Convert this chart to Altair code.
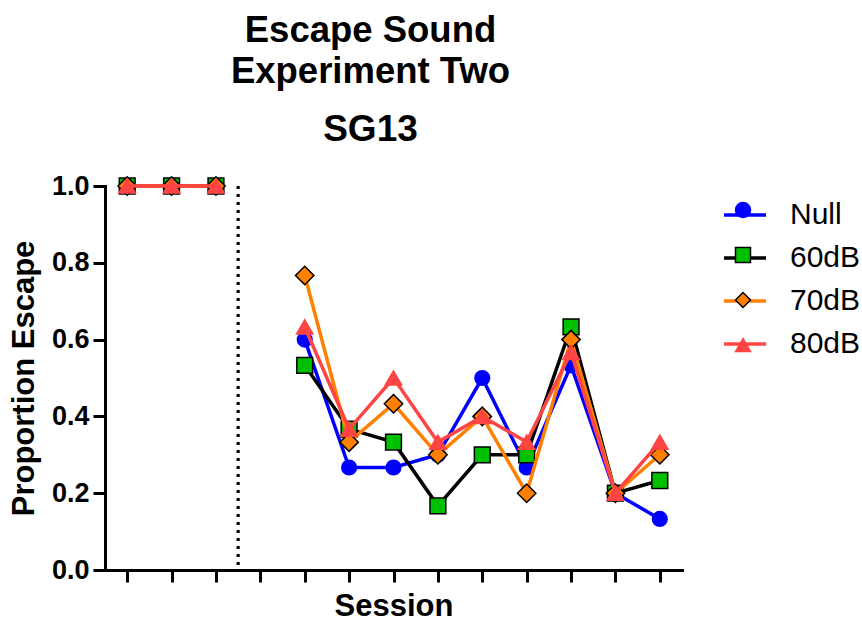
import altair as alt
import pandas as pd

# ---- data ----
series = ["Null", "60dB", "70dB", "80dB"]
sessions = [1, 2, 3, 5, 6, 7, 8, 9, 10, 11, 12, 13]
tick_sessions = list(range(1, 14))
divider_session = [3.5]
null_vals = [1.0, 1.0, 1.0, 0.600, 0.267, 0.267, 0.300, 0.500, 0.267, 0.533, 0.200, 0.133]
db60_vals = [1.0, 1.0, 1.0, 0.533, 0.367, 0.333, 0.167, 0.300, 0.300, 0.633, 0.200, 0.233]
db70_vals = [1.0, 1.0, 1.0, 0.767, 0.333, 0.433, 0.300, 0.400, 0.200, 0.600, 0.200, 0.300]
db80_vals = [1.0, 1.0, 1.0, 0.633, 0.367, 0.500, 0.333, 0.400, 0.333, 0.567, 0.200, 0.333]
y_ticks = [0.0, 0.2, 0.4, 0.6, 0.8, 1.0]

# ---- styles ----
line_colors = ["#0000FF", "#000000", "#FF8000", "#FF4444"]
fill_colors = ["#0000FF", "#00C000", "#FF8000", "#FF4444"]
edge_colors = ["#0000FF", "#000000", "#000000", "#FF4444"]
shapes = ["circle", "square", "diamond", "triangle-up"]
sizes = [215, 250, 340, 270]
FONT = "Liberation Sans"

rows = []
for name, vals in zip(series, [null_vals, db60_vals, db70_vals, db80_vals]):
    for s, v in zip(sessions, vals):
        rows.append({"Series": name, "Key": name + " ", "Session": s,
                     "Proportion": v, "Phase": "baseline" if s <= 3 else "test"})
df = pd.DataFrame(rows)
keys = [s + " " for s in series]

x_enc = alt.X("Session:Q",
              scale=alt.Scale(domain=[0.5, 13.5], nice=False, zero=False),
              axis=alt.Axis(values=tick_sessions, labels=False, title="Session",
                            grid=False, titlePadding=8))
y_enc = alt.Y("Proportion:Q",
              scale=alt.Scale(domain=[0, 1], nice=False),
              axis=alt.Axis(values=y_ticks, format=".1f", title="Proportion Escape",
                            grid=False, titlePadding=11))

# line-segment legend (carries the labels)
line_legend = alt.Legend(title=None, orient="none", legendX=617, legendY=6,
                         symbolType="stroke", symbolSize=1764, symbolStrokeWidth=3.5,
                         labelFont=FONT, labelFontSize=30, labelColor="black",
                         labelOffset=22, rowPadding=5, symbolOpacity=1)
# marker legend drawn on top of the line segments (no labels of its own)
point_legend = alt.Legend(title=None, orient="none", legendX=623, legendY=9,
                          symbolSize=225, symbolStrokeWidth=1.5,
                          labelFont=FONT, labelFontSize=30, labelExpr="''",
                          labelOffset=26, rowPadding=15, symbolOpacity=1)

color_enc = alt.Color("Series:N", scale=alt.Scale(domain=series, range=line_colors),
                      legend=line_legend)
fill_enc = alt.Fill("Key:N", scale=alt.Scale(domain=keys, range=fill_colors),
                    legend=point_legend)
stroke_enc = alt.Stroke("Key:N", scale=alt.Scale(domain=keys, range=edge_colors),
                        legend=point_legend)
shape_enc = alt.Shape("Key:N", scale=alt.Scale(domain=keys, range=shapes),
                      legend=point_legend)

rule = alt.Chart(pd.DataFrame({"Session": divider_session})).mark_rule(
    color="black", strokeWidth=3.2, strokeDash=[3, 5]
).encode(x=alt.X("Session:Q"))

layers = [rule]
for i, name in enumerate(series):
    base = alt.Chart(df).transform_filter(alt.datum.Series == name)
    layers.append(base.mark_line(strokeWidth=3.5).encode(
        x=x_enc, y=y_enc, color=color_enc, detail="Phase:N"))
    layers.append(base.mark_point(filled=True, opacity=1, strokeWidth=1.5,
                                  size=sizes[i]).encode(
        x=x_enc, y=y_enc, fill=fill_enc, stroke=stroke_enc, shape=shape_enc))

chart = alt.layer(*layers).properties(
    width=577, height=384,
    title=alt.TitleParams(text=["Escape Sound", "Experiment Two"], subtitle="SG13",
                          anchor="middle", dx=-23, offset=24),
    autosize=alt.AutoSizeParams(type="none"),
    padding={"left": 105, "top": 186, "right": 180, "bottom": 52},
).configure_view(stroke=None).configure_axis(
    labelFont=FONT, labelFontWeight="bold", labelFontSize=27, labelColor="black",
    labelPadding=4, titleFont=FONT, titleFontSize=31, titleFontWeight="bold",
    titleColor="black", domainColor="black", domainWidth=3, tickColor="black",
    tickWidth=3, tickSize=12, domainCap="square"
).configure_title(
    font=FONT, fontSize=36.5, fontWeight="bold", color="black", lineHeight=41,
    subtitleFont=FONT, subtitleFontSize=37, subtitleFontWeight="bold",
    subtitleColor="black", subtitlePadding=22
)

chart.save("out.html", embed_options={"renderer": "svg", "actions": False})
